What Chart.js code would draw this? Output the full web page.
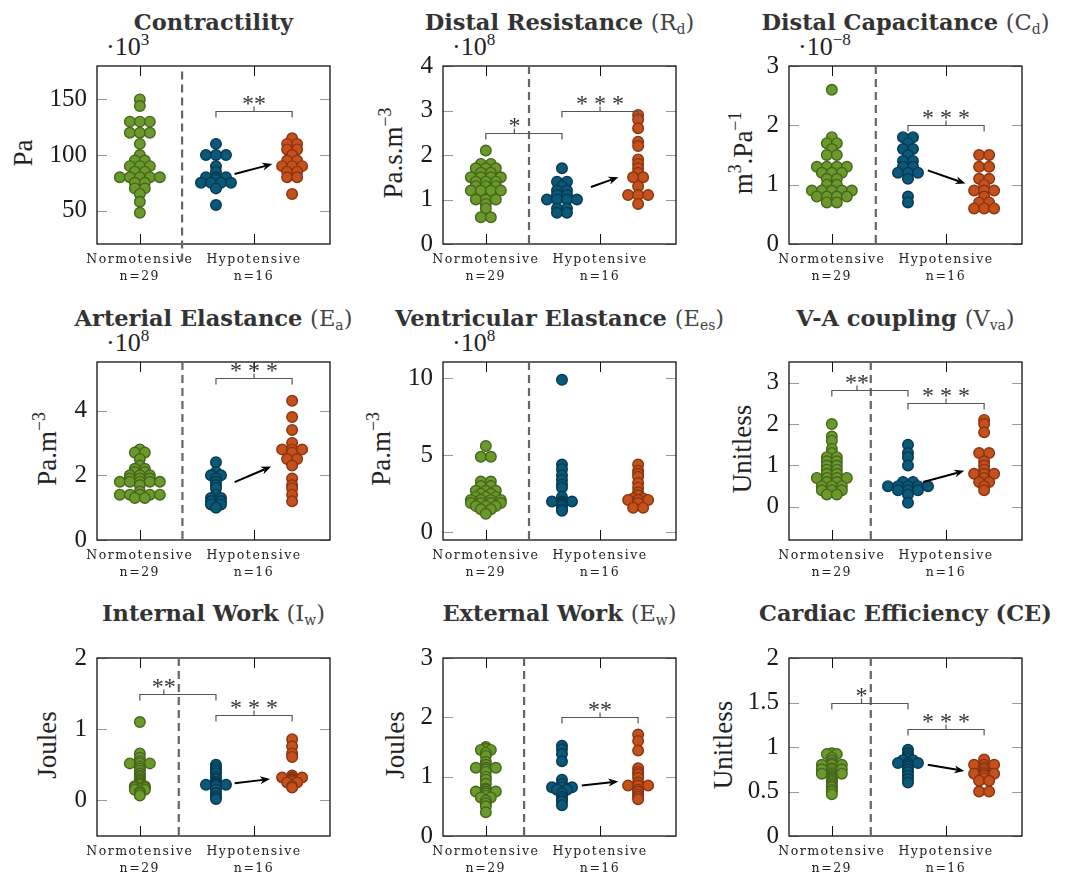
<!DOCTYPE html>
<html>
<head>
<meta charset="utf-8">
<script src="https://cdn.jsdelivr.net/npm/chart.js@4.4.1/dist/chart.umd.min.js"></script>
<style>
  html, body { margin: 0; padding: 0; background: #fff; }
  #fig { position: relative; width: 1068px; height: 878px; overflow: hidden; }
  #fig canvas { position: absolute; }
  .ptitle { position: absolute; width: 420px; text-align: center; white-space: nowrap;
            font: bold 22.5px 'DejaVu Serif', serif; line-height: 26px; color: #333; }
  .ptitle .sym { font-weight: normal; color: #444; }
  .ptitle sub { font-size: 62%; vertical-align: -0.3em; line-height: 0; }
  .ylab { position: absolute; white-space: nowrap; line-height: 1; color: #222;
          font: 27px 'Liberation Serif', serif; transform: translate(-50%, -50%) rotate(-90deg); }
  .yexp { position: absolute; white-space: nowrap; line-height: 1; color: #222;
          font: 26px 'Liberation Serif', serif; }
  .ylab sup, .yexp sup { font-size: 66%; vertical-align: 0.6em; line-height: 0; }
</style>
</head>
<body>
<div id="fig"></div>
<script>
/* 3x3 swarm panels, normotensive vs hypotensive (before / after) */

// ---- data ----
var groupNames = ['Normotensive', 'Hypotensive'];
var groupN = [29, 16];

var contractilityNormo   = [150, 144, 130, 130, 130, 120, 120, 120, 110, 100, 95, 95, 90, 90, 90, 85, 85, 80, 80, 80, 80, 80, 75, 75, 70, 70, 65, 58, 48];
var contractilityHypoPre = [110, 100, 100, 100, 90, 85, 80, 80, 80, 78, 75, 75, 75, 75, 70, 55];
var contractilityHypoPost= [115, 110, 110, 105, 105, 100, 95, 95, 90, 90, 90, 85, 85, 80, 80, 65];

var distalResNormo   = [2.1, 1.8, 1.8, 1.7, 1.7, 1.7, 1.6, 1.6, 1.5, 1.5, 1.5, 1.5, 1.4, 1.4, 1.4, 1.3, 1.3, 1.3, 1.2, 1.2, 1.2, 1.2, 1.0, 1.0, 1.0, 0.9, 0.8, 0.6, 0.6];
var distalResHypoPre = [1.7, 1.4, 1.4, 1.3, 1.2, 1.2, 1.1, 1.1, 1.0, 1.0, 1.0, 1.0, 0.8, 0.8, 0.7, 0.7];
var distalResHypoPost= [2.9, 2.8, 2.6, 2.3, 2.2, 1.9, 1.8, 1.7, 1.6, 1.5, 1.5, 1.3, 1.1, 1.1, 1.1, 0.9];

var distalCapNormo   = [2.6, 1.8, 1.7, 1.7, 1.6, 1.5, 1.5, 1.3, 1.3, 1.3, 1.3, 1.2, 1.2, 1.2, 1.1, 1.1, 1.0, 1.0, 0.9, 0.9, 0.9, 0.9, 0.9, 0.8, 0.8, 0.8, 0.8, 0.7, 0.7];
var distalCapHypoPre = [1.8, 1.8, 1.7, 1.6, 1.6, 1.5, 1.4, 1.4, 1.3, 1.3, 1.2, 1.2, 1.2, 1.1, 0.8, 0.7];
var distalCapHypoPost= [1.5, 1.5, 1.3, 1.3, 1.1, 1.1, 1.0, 0.9, 0.9, 0.9, 0.8, 0.7, 0.7, 0.6, 0.6, 0.6];

var arterialElNormo   = [2.8, 2.7, 2.7, 2.5, 2.3, 2.2, 2.2, 2.1, 2.1, 2.0, 2.0, 2.0, 1.9, 1.9, 1.9, 1.8, 1.8, 1.8, 1.8, 1.8, 1.7, 1.5, 1.4, 1.4, 1.4, 1.4, 1.4, 1.3, 1.3];
var arterialElHypoPre = [2.4, 2.1, 2.0, 2.0, 1.9, 1.8, 1.7, 1.6, 1.4, 1.3, 1.3, 1.2, 1.2, 1.1, 1.1, 1.0];
var arterialElHypoPost= [4.3, 3.8, 3.4, 3.0, 2.8, 2.8, 2.8, 2.7, 2.5, 2.5, 2.3, 1.9, 1.7, 1.6, 1.4, 1.2];

var ventricElNormo   = [5.6, 4.9, 4.9, 3.3, 3.3, 3.0, 3.0, 2.7, 2.7, 2.7, 2.5, 2.5, 2.3, 2.3, 2.3, 2.1, 2.1, 2.1, 2.1, 1.9, 1.9, 1.9, 1.9, 1.7, 1.7, 1.7, 1.5, 1.5, 1.2];
var ventricElHypoPre = [9.9, 4.4, 4.1, 3.7, 3.4, 3.1, 2.9, 2.3, 2.0, 2.0, 2.0, 1.9, 1.8, 1.7, 1.5, 1.4];
var ventricElHypoPost= [4.4, 4.0, 3.8, 3.6, 3.2, 2.9, 2.6, 2.4, 2.2, 2.2, 2.1, 2.1, 2.1, 1.9, 1.6, 1.6];

var vaCouplingNormo   = [2.0, 1.7, 1.6, 1.4, 1.3, 1.2, 1.2, 1.1, 1.1, 1.0, 1.0, 0.9, 0.9, 0.8, 0.8, 0.7, 0.7, 0.7, 0.7, 0.6, 0.6, 0.5, 0.5, 0.5, 0.4, 0.4, 0.4, 0.3, 0.3];
var vaCouplingHypoPre = [1.5, 1.3, 1.2, 1.0, 0.6, 0.6, 0.5, 0.5, 0.5, 0.5, 0.5, 0.4, 0.4, 0.4, 0.3, 0.1];
var vaCouplingHypoPost= [2.1, 2.0, 1.8, 1.3, 1.3, 1.1, 1.0, 0.9, 0.8, 0.8, 0.8, 0.7, 0.6, 0.6, 0.5, 0.4];

var internalWorkNormo   = [1.1, 0.66, 0.6, 0.55, 0.52, 0.52, 0.52, 0.48, 0.45, 0.42, 0.38, 0.35, 0.33, 0.3, 0.28, 0.26, 0.24, 0.22, 0.2, 0.2, 0.18, 0.18, 0.17, 0.16, 0.15, 0.15, 0.12, 0.1, 0.07];
var internalWorkHypoPre = [0.5, 0.46, 0.42, 0.38, 0.33, 0.3, 0.26, 0.24, 0.22, 0.22, 0.22, 0.2, 0.15, 0.1, 0.05, 0.02];
var internalWorkHypoPost= [0.86, 0.76, 0.66, 0.61, 0.35, 0.32, 0.32, 0.32, 0.3, 0.29, 0.28, 0.26, 0.25, 0.25, 0.2, 0.18];

var externalWorkNormo   = [1.5, 1.47, 1.45, 1.45, 1.4, 1.35, 1.25, 1.2, 1.15, 1.15, 1.15, 1.12, 1.08, 1.0, 0.95, 0.88, 0.8, 0.78, 0.75, 0.75, 0.75, 0.72, 0.68, 0.65, 0.65, 0.6, 0.55, 0.5, 0.4];
var externalWorkHypoPre = [1.52, 1.46, 1.38, 1.26, 0.95, 0.88, 0.82, 0.82, 0.82, 0.78, 0.78, 0.72, 0.66, 0.62, 0.58, 0.52];
var externalWorkHypoPost= [1.71, 1.6, 1.44, 1.14, 1.08, 1.04, 0.98, 0.9, 0.85, 0.85, 0.85, 0.78, 0.75, 0.7, 0.66, 0.62];

var cardiacEffNormo   = [0.93, 0.92, 0.92, 0.88, 0.85, 0.82, 0.8, 0.8, 0.8, 0.76, 0.75, 0.75, 0.75, 0.72, 0.7, 0.7, 0.7, 0.68, 0.66, 0.65, 0.64, 0.62, 0.6, 0.58, 0.56, 0.55, 0.52, 0.5, 0.47];
var cardiacEffHypoPre = [0.97, 0.93, 0.9, 0.87, 0.85, 0.85, 0.82, 0.82, 0.82, 0.8, 0.78, 0.75, 0.72, 0.68, 0.64, 0.6];
var cardiacEffHypoPost= [0.86, 0.8, 0.8, 0.8, 0.77, 0.75, 0.72, 0.7, 0.7, 0.7, 0.68, 0.65, 0.62, 0.62, 0.5, 0.5];

// y tick labels per panel
var yTicksContractility = [50, 100, 150];
var yTicksDistalRes     = [0, 1, 2, 3, 4];
var yTicksDistalCap     = [0, 1, 2, 3];
var yTicksArterialEl    = [0, 2, 4];
var yTicksVentricEl     = [0, 5, 10];
var yTicksVaCoupling    = [0, 1, 2, 3];
var yTicksInternalWork  = [0, 1, 2];
var yTicksExternalWork  = [0, 1, 2, 3];
var yTicksCardiacEff    = [0, 0.5, 1, 1.5, 2];

// ---- layout ----
var COL_LEFT = [97, 443, 789], ROW_TOP = [61, 357, 653], TITLE_Y = [22, 318, 613];
var BOX_W = 233, BOX_H = 183;
var AXIS_W = 70, AXIS_H = 45, PAD = 20;
var X_MIN = 0.625, X_MAX = 2.665;
var GROUP_X = [1, 5 / 3, 7 / 3];
var DOT_STEP = 10;

var COLORS = [
    { fill: '#6a9a2b', edge: '#46661c' },
    { fill: '#0b5878', edge: '#063a52' },
    { fill: '#c4501b', edge: '#8a3411' }
];

// sig: [from group, to group, bracket y, stars, x of the centre mark]
var panels = [
    { title: 'Contractility', ylab: 'Pa', exp: '·10<sup>3</sup>', y: [20, 180], ticks: yTicksContractility,
      series: [contractilityNormo, contractilityHypoPre, contractilityHypoPost], labX: 23,
      dash: [1.37, 0, 175], sig: [[1, 2, 140, '**', 2]], arrow: [1.83, 83, 2.16, 91.8] },
    { title: 'Distal Resistance <span class="sym">(R<sub>d</sub>)</span>', ylab: 'Pa.s.m<sup>−3</sup>', exp: '·10<sup>8</sup>', y: [0, 4], ticks: yTicksDistalRes,
      series: [distalResNormo, distalResHypoPre, distalResHypoPost], labX: 393,
      dash: [1.378, 0, 4], sig: [[0, 1, 2.5, '*', 1.25], [1, 2, 3.0, '* * *', 2]], arrow: [1.92, 1.28, 2.16, 1.5] },
    { title: 'Distal Capacitance <span class="sym">(C<sub>d</sub>)</span>', ylab: 'm<sup>3</sup>.Pa<sup>−1</sup>', exp: '·10<sup>−8</sup>', y: [0, 3], ticks: yTicksDistalCap,
      series: [distalCapNormo, distalCapHypoPre, distalCapHypoPost], labX: 743,
      dash: [1.385, 0, 3], sig: [[1, 2, 2.0, '* * *', 2]], arrow: [1.84, 1.24, 2.17, 1.02] },
    { title: 'Arterial Elastance <span class="sym">(E<sub>a</sub>)</span>', ylab: 'Pa.m<sup>−3</sup>', exp: '·10<sup>8</sup>', y: [0, 5.5], ticks: yTicksArterialEl,
      series: [arterialElNormo, arterialElHypoPre, arterialElHypoPost], labX: 47,
      dash: [1.373, 0, 5.5], sig: [[1, 2, 5.0, '* * *', 2]], arrow: [1.83, 1.79, 2.15, 2.27] },
    { title: 'Ventricular Elastance <span class="sym">(E<sub>es</sub>)</span>', ylab: 'Pa.m<sup>−3</sup>', exp: '·10<sup>8</sup>', y: [-0.5, 11.06], ticks: yTicksVentricEl,
      series: [ventricElNormo, ventricElHypoPre, ventricElHypoPost], labX: 381,
      dash: [1.378, -0.5, 11.06], sig: [], arrow: null },
    { title: 'V-A coupling <span class="sym">(V<sub>va</sub>)</span>', ylab: 'Unitless', exp: '', y: [-0.8, 3.5], ticks: yTicksVaCoupling,
      series: [vaCouplingNormo, vaCouplingHypoPre, vaCouplingHypoPost], labX: 742,
      dash: [1.341, -0.8, 3.5], sig: [[0, 1, 2.82, '**', 1.22], [1, 2, 2.5, '* * *', 2]], arrow: [1.8, 0.6, 2.16, 0.87] },
    { title: 'Internal Work <span class="sym">(I<sub>w</sub>)</span>', ylab: 'Joules', exp: '', y: [-0.5, 2], ticks: yTicksInternalWork,
      series: [internalWorkNormo, internalWorkHypoPre, internalWorkHypoPost], labX: 47,
      dash: [1.341, -0.5, 2], sig: [[0, 1, 1.5, '**', 1.21], [1, 2, 1.2, '* * *', 2]], arrow: [1.83, 0.24, 2.14, 0.3] },
    { title: 'External Work <span class="sym">(E<sub>w</sub>)</span>', ylab: 'Joules', exp: '', y: [0, 3], ticks: yTicksExternalWork,
      series: [externalWorkNormo, externalWorkHypoPre, externalWorkHypoPost], labX: 395,
      dash: [1.335, 0, 3], sig: [[1, 2, 2.0, '**', 2]], arrow: [1.84, 0.85, 2.16, 0.92] },
    { title: 'Cardiac Efficiency (CE)', ylab: 'Unitless', exp: '', y: [0, 2], ticks: yTicksCardiacEff,
      series: [cardiacEffNormo, cardiacEffHypoPre, cardiacEffHypoPost], labX: 723,
      dash: [1.341, 0, 2], sig: [[0, 1, 1.5, '*', 1.26], [1, 2, 1.2, '* * *', 2]], arrow: [1.84, 0.8, 2.16, 0.73] }
];

// x axis with letter-spaced tick labels
var BaseLinear = Chart.LinearScale || Chart.registry.getScale('linear');
class SpacedScale extends BaseLinear {
    drawLabels(area) {
        var ctx = this.ctx;
        ctx.save();
        ctx.letterSpacing = '1.5px';
        super.drawLabels(area);
        ctx.restore();
    }
}
SpacedScale.id = 'spaced';
SpacedScale.defaults = BaseLinear.defaults;
Chart.register(SpacedScale);

// equal values are laid out in a centred row
function spreadRow(values, cx) {
    var pxPerX = BOX_W / (X_MAX - X_MIN);
    var counts = {}, seen = {};
    values.forEach(function (v) { counts[v] = (counts[v] || 0) + 1; });
    return values.map(function (v) {
        var k = seen[v] = (seen[v] === undefined ? 0 : seen[v] + 1);
        return { x: cx + (k - (counts[v] - 1) / 2) * DOT_STEP / pxPerX, y: v };
    });
}

function decorPlugin(p) {
    return {
        id: 'decor',
        beforeDatasetsDraw: function (chart) {
            var ctx = chart.ctx, a = chart.chartArea, xs = chart.scales.x, ys = chart.scales.y;
            ctx.save();
            ctx.lineWidth = 1;
            ctx.strokeStyle = '#9a9a9a';
            ys.ticks.forEach(function (t) {
                var y = Math.round(ys.getPixelForValue(t.value)) + 0.5;
                ctx.beginPath();
                ctx.moveTo(a.left, y); ctx.lineTo(a.left + 10, y);
                ctx.moveTo(a.right - 10, y); ctx.lineTo(a.right, y);
                ctx.stroke();
            });
            ctx.strokeStyle = '#111';
            xs.ticks.forEach(function (t) {
                var x = Math.round(xs.getPixelForValue(t.value)) + 0.5;
                ctx.beginPath();
                ctx.moveTo(x, a.bottom); ctx.lineTo(x, a.bottom - 10);
                ctx.moveTo(x, a.top); ctx.lineTo(x, a.top + 10);
                ctx.stroke();
            });
            ctx.lineWidth = 1.3;
            ctx.strokeRect(a.left, a.top, a.width, a.height);
            ctx.restore();
        },
        afterDatasetsDraw: function (chart) {
            var ctx = chart.ctx, xs = chart.scales.x, ys = chart.scales.y;
            ctx.save();
            // group separator
            var dx = xs.getPixelForValue(p.dash[0]);
            ctx.strokeStyle = '#666';
            ctx.lineWidth = 2.2;
            ctx.setLineDash([8, 5]);
            ctx.beginPath();
            ctx.moveTo(dx, ys.getPixelForValue(p.dash[2]));
            ctx.lineTo(dx, ys.getPixelForValue(p.dash[1]));
            ctx.stroke();
            ctx.setLineDash([]);
            // significance brackets
            p.sig.forEach(function (s) {
                var x1 = xs.getPixelForValue(GROUP_X[s[0]]), x2 = xs.getPixelForValue(GROUP_X[s[1]]);
                var y = Math.round(ys.getPixelForValue(s[2])) + 0.5, mid = xs.getPixelForValue(s[4]);
                ctx.strokeStyle = '#555';
                ctx.lineWidth = 1.2;
                ctx.beginPath();
                ctx.moveTo(x1, y + 6); ctx.lineTo(x1, y); ctx.lineTo(x2, y); ctx.lineTo(x2, y + 6);
                ctx.moveTo(mid, y); ctx.lineTo(mid, y - 5);
                ctx.stroke();
                ctx.fillStyle = '#333';
                ctx.font = '24px "Liberation Serif", serif';
                ctx.textAlign = 'center';
                ctx.textBaseline = 'alphabetic';
                ctx.fillText(s[3], mid, y - 1);
            });
            // change arrow
            if (p.arrow) {
                var x0 = xs.getPixelForValue(p.arrow[0]), y0 = ys.getPixelForValue(p.arrow[1]);
                var x1 = xs.getPixelForValue(p.arrow[2]), y1 = ys.getPixelForValue(p.arrow[3]);
                var ang = Math.atan2(y1 - y0, x1 - x0), hl = 10, hw = 4;
                ctx.strokeStyle = '#000';
                ctx.fillStyle = '#000';
                ctx.lineWidth = 2;
                ctx.beginPath();
                ctx.moveTo(x0, y0);
                ctx.lineTo(x1 - Math.cos(ang) * hl * 0.7, y1 - Math.sin(ang) * hl * 0.7);
                ctx.stroke();
                ctx.beginPath();
                ctx.moveTo(x1, y1);
                ctx.lineTo(x1 - Math.cos(ang) * hl - Math.sin(ang) * hw, y1 - Math.sin(ang) * hl + Math.cos(ang) * hw);
                ctx.lineTo(x1 - Math.cos(ang) * hl * 0.7, y1 - Math.sin(ang) * hl * 0.7);
                ctx.lineTo(x1 - Math.cos(ang) * hl + Math.sin(ang) * hw, y1 - Math.sin(ang) * hl - Math.cos(ang) * hw);
                ctx.closePath();
                ctx.fill();
            }
            ctx.restore();
        }
    };
}

var fig = document.getElementById('fig');

panels.forEach(function (p, i) {
    var col = i % 3, row = Math.floor(i / 3);
    var boxL = COL_LEFT[col], boxT = ROW_TOP[row];

    var t = document.createElement('div');
    t.className = 'ptitle';
    t.innerHTML = p.title;
    t.style.left = (boxL + BOX_W / 2 - 210) + 'px';
    t.style.top = (TITLE_Y[row] - 13) + 'px';
    fig.appendChild(t);

    var yl = document.createElement('div');
    yl.className = 'ylab';
    yl.innerHTML = p.ylab;
    yl.style.left = p.labX + 'px';
    yl.style.top = (boxT + BOX_H / 2) + 'px';
    fig.appendChild(yl);

    if (p.exp) {
        var ex = document.createElement('div');
        ex.className = 'yexp';
        ex.innerHTML = p.exp;
        ex.style.left = (boxL + 9) + 'px';
        ex.style.top = (boxT - 29) + 'px';
        fig.appendChild(ex);
    }

    var cv = document.createElement('canvas');
    var w = AXIS_W + BOX_W + PAD, h = PAD + BOX_H + AXIS_H;
    cv.width = w; cv.height = h;
    cv.style.width = w + 'px'; cv.style.height = h + 'px';
    cv.style.left = (boxL - AXIS_W) + 'px';
    cv.style.top = (boxT - PAD) + 'px';
    fig.appendChild(cv);

    new Chart(cv, {
        type: 'scatter',
        data: {
            datasets: p.series.map(function (vals, g) {
                return {
                    data: spreadRow(vals, GROUP_X[g]),
                    backgroundColor: COLORS[g].fill,
                    borderColor: COLORS[g].edge,
                    borderWidth: 1.4,
                    pointRadius: 5.3,
                    pointHoverRadius: 5.3
                };
            })
        },
        options: {
            responsive: false,
            animation: false,
            events: [],
            layout: { padding: { top: PAD, right: PAD, left: 0, bottom: 0 } },
            plugins: { legend: { display: false }, tooltip: { enabled: false } },
            scales: {
                x: {
                    type: 'spaced',
                    min: X_MIN, max: X_MAX,
                    grid: { display: false, drawTicks: false },
                    border: { display: false },
                    afterFit: function (s) { s.height = AXIS_H; },
                    afterBuildTicks: function (s) { s.ticks = [{ value: 1 }, { value: 2 }]; },
                    ticks: {
                        padding: 8,
                        color: '#222',
                        maxRotation: 0,
                        autoSkip: false,
                        font: { family: 'DejaVu Serif', size: 12.5, lineHeight: 1.3 },
                        callback: function (v) {
                            var k = v < 1.5 ? 0 : 1;
                            return [groupNames[k], 'n=' + groupN[k]];
                        }
                    }
                },
                y: {
                    min: p.y[0], max: p.y[1],
                    grid: { display: false, drawTicks: false },
                    border: { display: false },
                    afterFit: function (s) { s.width = AXIS_W; },
                    afterBuildTicks: function (s) { s.ticks = p.ticks.map(function (v) { return { value: v }; }); },
                    ticks: {
                        padding: 10,
                        color: '#1a1a1a',
                        font: { family: 'Liberation Serif', size: 25 },
                        callback: function (v) { return String(v); }
                    }
                }
            }
        },
        plugins: [decorPlugin(p)]
    });
});
</script>
</body>
</html>
